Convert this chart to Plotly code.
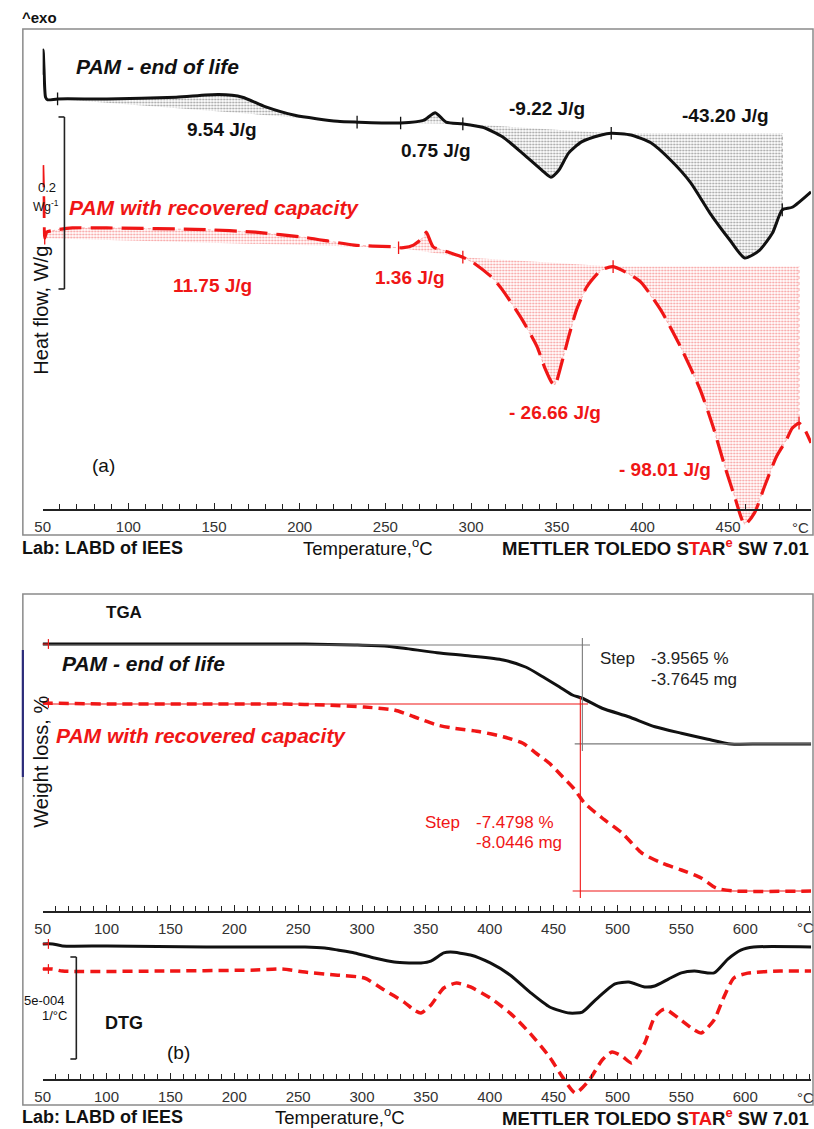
import plotly.graph_objects as go

FONT = "Liberation Sans, Arial, sans-serif"
W, H = 814, 1129
RED = "#f01616"
BLACK = "#111111"

# ---------------- DSC, panel (a) ----------------
# temperature (degC) and heat flow (W/g, curves shifted for display)
dsc_temp_end = [50.0, 50.3, 50.8, 51.7, 52.9, 58.7, 87.5, 127.9, 152.7, 166.6, 179.8,
                197.1, 222.0, 233.5, 258.9, 272.2, 279.1, 285.4, 295.2, 306.8, 318.3,
                329.9, 341.4, 346.6, 351.2, 356.9, 364.5, 376.0, 381.8, 393.3, 404.9,
                416.4, 428.0, 439.5, 451.0, 459.7, 468.3, 475.9, 481.6, 487.4, 498.4]
dsc_end_of_life = [0.506, 0.535, 0.512, 0.480, 0.477, 0.478, 0.478, 0.480, 0.483, 0.480, 0.469,
                   0.459, 0.452, 0.451, 0.450, 0.453, 0.462, 0.451, 0.449, 0.445, 0.434,
                   0.415, 0.395, 0.387, 0.395, 0.415, 0.428, 0.436, 0.438, 0.436, 0.427,
                   0.407, 0.381, 0.345, 0.314, 0.293, 0.302, 0.322, 0.349, 0.352, 0.370]

dsc_temp_rec = [50.0, 50.6, 51.2, 52.3, 58.7, 67.3, 87.5, 145.2, 174.1, 202.9, 231.8,
                254.8, 257.7, 260.6, 266.4, 272.2, 273.9, 277.9, 286.6, 295.2, 301.0,
                312.5, 318.3, 329.9, 338.5, 343.1, 347.2, 348.9, 352.9, 356.9, 361.6,
                367.4, 376.0, 382.9, 393.3, 399.1, 410.6, 422.2, 433.7, 441.2, 448.2,
                453.9, 459.7, 465.5, 471.2, 478.2, 483.9, 487.4, 491.4, 494.3, 498.4]
dsc_recovered = [0.401, 0.360, 0.316, 0.323, 0.326, 0.328, 0.328, 0.326, 0.323, 0.317, 0.308,
                 0.306, 0.305, 0.305, 0.308, 0.317, 0.323, 0.306, 0.300, 0.294, 0.288,
                 0.270, 0.256, 0.221, 0.190, 0.165, 0.148, 0.145, 0.171, 0.201, 0.233,
                 0.259, 0.279, 0.283, 0.273, 0.265, 0.233, 0.190, 0.140, 0.097, 0.050,
                 0.015, -0.017, -0.003, 0.027, 0.062, 0.081, 0.095, 0.101, 0.095, 0.078]

# integration windows: (start T, end T, baseline type)
peaks_end = [(58.7, 233.5, "sloped"), (258.9, 295.2, "sloped"),
             (295.2, 381.8, "sloped"), (381.8, 481.6, "flat")]
peaks_rec = [(51.2, 257.7, "sloped"), (257.7, 295.2, "sloped"),
             (295.2, 382.9, "sloped"), (382.9, 491.4, "flat")]
enthalpy_end = ["9.54 J/g", "0.75 J/g", "-9.22 J/g", "-43.20 J/g"]
enthalpy_rec = ["11.75 J/g", "1.36 J/g", "- 26.66 J/g", "- 98.01 J/g"]
dsc_scale = 0.2          # W/g, scale bar
dsc_ticks = [50, 100, 150, 200, 250, 300, 350, 400, 450]

# ---------------- TGA, panel (b) ----------------
tga_temp_end = [50.0, 53.9, 100.4, 177.9, 255.4, 294.2, 317.4, 332.9, 358.8, 384.6, 410.5,
                428.5, 441.5, 454.4, 464.7, 472.5, 488.0, 508.7, 529.3, 550.0, 570.7,
                588.8, 612.0, 652.3]
tga_end_of_life = [100.04, 100.04, 100.04, 100.04, 100.04, 100.00, 99.96, 99.87, 99.69, 99.56,
                   99.40, 99.11, 98.73, 98.33, 98.00, 97.87, 97.47, 97.13, 96.73, 96.47,
                   96.23, 96.04, 96.04, 96.04]
tga_temp_rec = [50.0, 100.4, 177.9, 239.9, 270.9, 301.9, 325.2, 340.7, 358.8, 371.7, 392.4,
                410.5, 426.0, 436.3, 446.7, 457.0, 466.1, 474.1, 488.0, 503.5, 519.0,
                534.5, 550.0, 565.5, 577.1, 591.3, 652.3]
tga_recovered = [100.04, 100.0, 100.0, 100.0, 99.96, 99.88, 99.76, 99.49, 99.16, 99.03, 98.89,
                 98.69, 98.43, 98.03, 97.63, 97.09, 96.60, 96.04, 95.44, 94.84, 94.04,
                 93.64, 93.36, 93.04, 92.64, 92.52, 92.52]
tga_step_temp = [472.5, 470.9]           # degC, step evaluation point
tga_step_pct = [-3.9565, -7.4798]
tga_step_mg = [-3.7645, -8.0446]
tga_start_pct = 100.0

# ---------------- DTG, panel (b) ----------------
dtg_temp_end = [50.0, 57.8, 65.5, 100.4, 177.9, 255.4, 270.9, 281.0, 294.2, 309.7, 325.2,
                336.8, 346.1, 353.9, 364.0, 369.4, 384.9, 400.4, 415.9, 431.4, 446.9,
                462.4, 472.5, 482.6, 498.1, 508.9, 521.3, 529.1, 539.9, 550.0, 560.1,
                575.6, 586.4, 596.5, 606.6, 652.3]
dtg_end_of_life = [0.15, 0.15, 0.05, 0.05, 0.0, 0.0, -0.05, -0.15, -0.29, -0.54, -0.74,
                   -0.78, -0.78, -0.69, -0.29, -0.25, -0.39, -0.78, -1.37, -2.21, -2.94,
                   -3.24, -3.19, -2.60, -1.81, -1.72, -1.96, -1.91, -1.57, -1.27, -1.18,
                   -1.27, -0.59, -0.15, 0.0, 0.0]
dtg_temp_rec = [50.0, 57.8, 65.5, 139.1, 216.7, 237.6, 255.4, 281.0, 301.9, 317.4, 332.9,
                340.7, 346.1, 353.9, 364.0, 374.0, 384.9, 400.4, 415.9, 431.4, 446.9,
                457.0, 467.1, 477.9, 488.0, 495.7, 503.5, 511.2, 521.3, 529.1, 536.8,
                547.7, 560.1, 565.5, 575.6, 583.3, 591.1, 601.9, 627.5, 652.3]
dtg_recovered = [0.10, 0.10, 0.0, 0.0, 0.05, 0.10, -0.05, -0.20, -0.34, -0.93, -1.52,
                 -1.91, -2.06, -1.67, -0.83, -0.59, -0.78, -1.32, -2.06, -3.04, -4.22,
                 -5.20, -5.98, -5.34, -4.36, -3.97, -4.17, -4.51, -3.53, -2.25, -1.86,
                 -2.30, -2.89, -3.04, -2.40, -1.27, -0.34, -0.10, 0.0, 0.0]
dtg_scale = 5.0          # x 1e-4 1/degC, scale bar
tg_ticks = [50, 100, 150, 200, 250, 300, 350, 400, 450, 500, 550, 600]

# vertical display offsets of the second curve in panel (b)
TGA_SHIFT = -2.36
DTG_SHIFT = -1.18

# ---------------- page geometry (pixels) ----------------
def fx(x):
    return x / W


def fy(y):
    return 1 - y / H


X0, X1 = 35, 811
# DSC axis: 860 px per W/g, zero at the axis line (y=510)
DSC_TOP, DSC_BOT, DSC_AXIS, DSC_PX = 29, 535, 510, 860.0
# TGA axis: 25 px per %, 100 % at y=645
TGA_TOP, TGA_AXIS, TGA_REF, TGA_PX = 594, 912, 645, 25.0
# DTG axis: 20.4 px per 1e-4 1/degC, zero at y=947
DTG_TOP, DTG_BOT, DTG_AXIS, DTG_REF, DTG_PX = 936, 1105, 1080, 947, 20.4

fig = go.Figure()


def region(T, V, t0, t1, kind):
    i0, i1 = T.index(t0), T.index(t1)
    xs, ys = list(T[i0:i1 + 1]), list(V[i0:i1 + 1])
    if kind == "flat":
        xs.append(t1)
        ys.append(V[i0])
    return xs, ys


# hatched integration areas
for T, V, peaks, col, fg in [(dsc_temp_end, dsc_end_of_life, peaks_end, "#777", "#3a3a3a"),
                             (dsc_temp_rec, dsc_recovered, peaks_rec, "#f59090", "#ee3333")]:
    for t0, t1, kind in peaks:
        xs, ys = region(T, V, t0, t1, kind)
        fig.add_trace(go.Scatter(
            x=xs, y=ys, mode="lines", fill="toself", fillcolor="rgba(0,0,0,0)",
            fillpattern=dict(shape=".", fgcolor=fg, bgcolor="rgba(0,0,0,0)", size=3, solidity=0.35),
            line=dict(color=col, width=0.7, dash="dot"), hoverinfo="skip",
            xaxis="x", yaxis="y"))

fig.add_trace(go.Scatter(x=dsc_temp_end, y=dsc_end_of_life, mode="lines",
                         line=dict(color=BLACK, width=3, shape="spline", smoothing=0.6),
                         xaxis="x", yaxis="y"))
fig.add_trace(go.Scatter(x=dsc_temp_rec, y=dsc_recovered, mode="lines",
                         line=dict(color=RED, width=3.2, dash="22px,9px", shape="spline", smoothing=0.6),
                         xaxis="x", yaxis="y"))

# boundary markers of the integration windows
for T, V, peaks, col in [(dsc_temp_end, dsc_end_of_life, peaks_end, BLACK),
                         (dsc_temp_rec, dsc_recovered, peaks_rec, RED)]:
    mt = sorted({p[0] for p in peaks} | {p[1] for p in peaks})
    mv = [V[T.index(t)] for t in mt]
    fig.add_trace(go.Scatter(x=mt, y=mv, mode="markers",
                             marker=dict(symbol="line-ns-open", size=9, color=col,
                                         line=dict(color=col, width=1.3)),
                             xaxis="x", yaxis="y"))

# TGA curves
fig.add_trace(go.Scatter(x=tga_temp_end, y=tga_end_of_life, mode="lines",
                         line=dict(color=BLACK, width=3, shape="spline", smoothing=0.6),
                         xaxis="x2", yaxis="y2"))
fig.add_trace(go.Scatter(x=tga_temp_rec, y=[v + TGA_SHIFT for v in tga_recovered], mode="lines",
                         line=dict(color=RED, width=3.5, dash="10px,6px", shape="spline", smoothing=0.6),
                         xaxis="x2", yaxis="y2"))

# TGA step evaluation lines
for k, (col, shift) in enumerate([("#7a7a7a", 0.0), (RED, TGA_SHIFT)]):
    top = tga_start_pct + shift
    bot = tga_start_pct + tga_step_pct[k] + shift
    ts = tga_step_temp[k]
    for xs, ys in [([50, ts + 6], [top, top]),
                   ([ts, ts], [top + 0.28, bot - 0.28]),
                   ([ts - 6, 652], [bot, bot])]:
        fig.add_trace(go.Scatter(x=xs, y=ys, mode="lines", line=dict(color=col, width=1.1),
                                 xaxis="x2", yaxis="y2"))

# DTG curves
fig.add_trace(go.Scatter(x=dtg_temp_end, y=dtg_end_of_life, mode="lines",
                         line=dict(color=BLACK, width=3, shape="spline", smoothing=0.6),
                         xaxis="x3", yaxis="y3"))
fig.add_trace(go.Scatter(x=dtg_temp_rec, y=[v + DTG_SHIFT for v in dtg_recovered], mode="lines",
                         line=dict(color=RED, width=3.5, dash="10px,6px", shape="spline", smoothing=0.6),
                         xaxis="x3", yaxis="y3"))

# start-of-curve brackets in panel (b)
for ax, ys in [("2", [tga_end_of_life[0], tga_recovered[0] + TGA_SHIFT]),
               ("3", [dtg_end_of_life[0], dtg_recovered[0] + DTG_SHIFT])]:
    for v in ys:
        fig.add_trace(go.Scatter(x=[48.5, 54.5], y=[v, v], mode="lines+markers", cliponaxis=False,
                                 line=dict(color=RED, width=1.2),
                                 marker=dict(symbol="line-ns-open", size=7, color=RED,
                                             line=dict(color=RED, width=1.2)),
                                 xaxis="x" + ax, yaxis="y" + ax))

# ---------------- axes ----------------
def xaxis(rng, ticks, axis_y):
    return dict(domain=[fx(X0), fx(X1)], range=rng, anchor="free", position=fy(axis_y), side="bottom",
                showgrid=False, zeroline=False, showline=True, linecolor="#222", linewidth=1.5,
                tickmode="array", tickvals=ticks, ticks="inside", ticklen=6, tickwidth=1.3,
                tickcolor="#222", ticklabelstandoff=3,
                minor=dict(tickmode="linear", tick0=50, dtick=10, ticks="inside", ticklen=5,
                           tickwidth=1.1, tickcolor="#222"),
                tickfont=dict(family=FONT, size=15, color="#333"), fixedrange=True)


def yaxis(dom_px, rng):
    return dict(domain=[fy(dom_px[1]), fy(dom_px[0])], range=rng, visible=False, fixedrange=True)


fig.update_layout(
    width=W, height=H, margin=dict(l=0, r=0, t=0, b=0),
    paper_bgcolor="white", plot_bgcolor="white", showlegend=False,
    xaxis=xaxis([50, 498.4], dsc_ticks, DSC_AXIS),
    yaxis=yaxis((DSC_TOP, DSC_BOT), [(DSC_AXIS - DSC_BOT) / DSC_PX, (DSC_AXIS - DSC_TOP) / DSC_PX]),
    xaxis2=xaxis([50, 651.5], tg_ticks, TGA_AXIS),
    yaxis2=yaxis((TGA_TOP, TGA_AXIS), [100 - (TGA_AXIS - TGA_REF) / TGA_PX, 100 + (TGA_REF - TGA_TOP) / TGA_PX]),
    xaxis3=xaxis([50, 651.5], tg_ticks, DTG_AXIS),
    yaxis3=yaxis((DTG_TOP, DTG_BOT), [-(DTG_BOT - DTG_REF) / DTG_PX, -(DTG_TOP - DTG_REF) / DTG_PX]),
)

# ---------------- frames and scale bars ----------------
shapes = [
    dict(type="rect", xref="paper", yref="paper", x0=fx(15), x1=fx(813), y0=fy(535), y1=fy(29),
         line=dict(color="#8a8a8a", width=1.5)),
    dict(type="rect", xref="paper", yref="paper", x0=fx(15), x1=fx(813), y0=fy(1105), y1=fy(594),
         line=dict(color="#8a8a8a", width=1.5)),
    dict(type="line", xref="paper", yref="paper", x0=fx(15), x1=fx(15), y0=fy(650), y1=fy(777),
         line=dict(color="#2b2b7a", width=2.2)),
]
for xr, yr, x_bar, lo, size in [("paper", "y", 57, 0.257, dsc_scale), ("paper", "y3", 69, -5.49, dtg_scale)]:
    hi = lo + size
    shapes += [
        dict(type="line", xref=xr, yref=yr, x0=fx(x_bar), x1=fx(x_bar), y0=lo, y1=hi,
             line=dict(color="#222", width=1.6)),
        dict(type="line", xref=xr, yref=yr, x0=fx(x_bar - 6), x1=fx(x_bar), y0=lo, y1=lo,
             line=dict(color="#222", width=1.6)),
        dict(type="line", xref=xr, yref=yr, x0=fx(x_bar - 6), x1=fx(x_bar), y0=hi, y1=hi,
             line=dict(color="#222", width=1.6)),
    ]
fig.update_layout(shapes=shapes)

# ---------------- text ----------------
ann = []


def label(text, x, y, size, color="#111", bold=False, italic=False, anchor="center", angle=0):
    t = text
    if bold:
        t = f"<b>{t}</b>"
    if italic:
        t = f"<i>{t}</i>"
    ann.append(dict(text=t, x=fx(x), y=fy(y), xref="paper", yref="paper", showarrow=False,
                    xanchor=anchor, yanchor="middle", textangle=angle, borderpad=0,
                    font=dict(family=FONT, size=size, color=color)))


STAR = ("METTLER TOLEDO S<span style='color:#f01616'>TA</span>R"
        "<sup><span style='color:#f01616'>e</span></sup> SW 7.01")

# panel (a)
label("^exo", 13, 17, 15, bold=True, anchor="left")
label("PAM - end of life", 68, 67, 21, bold=True, italic=True, anchor="left")
label("PAM with recovered capacity", 61, 208, 21, color=RED, bold=True, italic=True, anchor="left")
for txt, (x, y) in zip(enthalpy_end, [(216, 129), (432, 151), (544, 108), (725, 116)]):
    label(txt, x, y, 19, bold=True)
for txt, (x, y) in zip(enthalpy_rec, [(207, 285), (406, 277), (552, 412), (664, 470)]):
    label(txt, x, y, 19, color=RED, bold=True)
label("(a)", 96, 465, 19)
label("Heat flow, W/g", 33, 310, 20, angle=-90)
label("0.2", 39, 188, 13)
label("Wg<sup>-1</sup>", 38, 206, 12)
label("°C", 800, 528, 15, color="#333")
label("Lab: LABD of IEES", 13, 548, 18, bold=True, anchor="left")
label("Temperature,<sup>o</sup>C", 364, 547, 18.5)
label(STAR, 810, 547, 18.5, bold=True, anchor="right")

# panel (b)
label("TGA", 117, 612, 17, bold=True)
label("PAM - end of life", 54, 663, 21, bold=True, italic=True, anchor="left")
label("PAM with recovered capacity", 47, 735, 21, color=RED, bold=True, italic=True, anchor="left")
label("Weight loss, %", 33, 762, 20, angle=-90)
label("Step", 597, 658, 17, color="#222", anchor="left")
label(f"{tga_step_pct[0]:.4f} %", 648, 658, 17, color="#222", anchor="left")
label(f"{tga_step_mg[0]:.4f} mg", 648, 679, 17, color="#222", anchor="left")
label("Step", 420, 822, 17, color=RED, anchor="left")
label(f"{tga_step_pct[1]:.4f} %", 472, 822, 17, color=RED, anchor="left")
label(f"{tga_step_mg[1]:.4f} mg", 472, 842, 17, color=RED, anchor="left")
label("°C", 805, 927, 15, color="#333")
label("5e-004", 58, 1000, 13, anchor="right")
label("1/°C", 61, 1015, 13, anchor="right")
label("DTG", 117, 1023, 18, bold=True)
label("(b)", 172, 1052, 19)
label("°C", 805, 1097, 15, color="#333")
label("Lab: LABD of IEES", 13, 1117, 18, bold=True, anchor="left")
label("Temperature,<sup>o</sup>C", 335, 1116, 18.5)
label(STAR, 810, 1117, 18.5, bold=True, anchor="right")

fig.update_layout(annotations=ann)
fig.write_html("out.html")
